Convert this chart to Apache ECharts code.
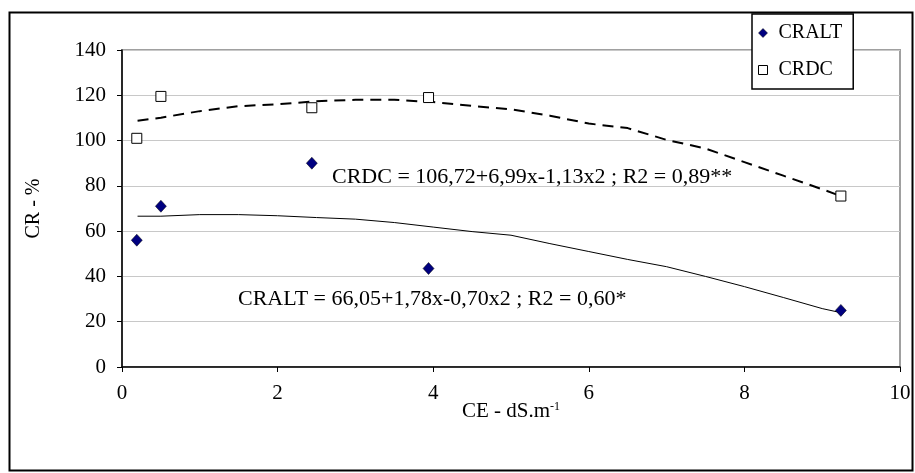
<!DOCTYPE html>
<html>
<head>
<meta charset="utf-8">
<script src="https://cdn.jsdelivr.net/npm/echarts@6/dist/echarts.min.js"></script>
<style>
html,body{margin:0;padding:0;background:#fff;}
#c{width:915px;height:473px;}
</style>
</head>
<body>
<div id="c"></div>
<script>
// Observed points
const xObs = [0.19, 0.5, 2.44, 3.94, 9.24];
const craltObs = [56, 71, 90, 43.5, 25];
const crdcObs = [101, 119.5, 114.5, 119, 75.5];
// Trendline readings
const trendX = [0.2, 0.5, 1, 1.5, 2, 2.5, 3, 3.5, 4, 4.5, 5, 5.5, 6, 6.5, 7, 7.5, 8, 8.5, 9, 9.24];
const crdcTrend = [108.8, 110.1, 113, 115.2, 116, 117.4, 118, 118, 117, 115.3, 113.8, 111, 107.5, 105.5, 100.3, 96.5, 90.5, 84.5, 78.5, 75.5];
const craltTrend = [66.6, 66.6, 67.3, 67.3, 66.8, 66, 65.3, 63.8, 61.8, 59.8, 58.2, 54.5, 51, 47.5, 44.3, 40, 35.5, 30.7, 25.8, 24];
const xTicks = [0, 2, 4, 6, 8, 10];
const yTicks = [0, 20, 40, 60, 80, 100, 120, 140];
const eqCRDC = 'CRDC = 106,72+6,99x-1,13x2 ; R2 = 0,89**';
const eqCRALT = 'CRALT = 66,05+1,78x-0,70x2 ; R2 = 0,60*';

const FONT = 'Liberation Serif';
const zip = (a, b) => a.map((v, i) => [v, b[i]]);

const chart = echarts.init(document.getElementById('c'), null, {renderer: 'canvas'});
chart.setOption({
  animation: false,
  backgroundColor: '#fff',
  textStyle: {fontFamily: FONT, color: '#000'},
  grid: {left: 122, right: 15, top: 50, bottom: 106, show: true, borderColor: '#a0a0a0', borderWidth: 2, backgroundColor: '#fff'},
  xAxis: {
    type: 'value', min: xTicks[0], max: xTicks[xTicks.length - 1], interval: 2,
    name: '{n|CE - dS.m}{s|-1}', nameLocation: 'middle', nameGap: 34, nameMoveOverlap: false,
    nameTextStyle: {rich: {n: {fontFamily: FONT, fontSize: 21, color: '#000', verticalAlign: 'bottom'}, s: {fontFamily: FONT, fontSize: 12, color: '#000', verticalAlign: 'top', padding: [0, 0, 9, 0]}}},
    axisLine: {show: true, lineStyle: {color: '#000', width: 1.5}},
    axisTick: {show: true, length: 5, lineStyle: {color: '#000'}},
    axisLabel: {fontFamily: FONT, fontSize: 21, color: '#000', margin: 16},
    splitLine: {show: false}
  },
  yAxis: {
    type: 'value', min: yTicks[0], max: yTicks[yTicks.length - 1], interval: 20,
    name: 'CR - %', nameLocation: 'middle', nameGap: 78, nameRotate: 90, nameMoveOverlap: false,
    nameTextStyle: {fontFamily: FONT, fontSize: 20, color: '#000'},
    axisLine: {show: true, lineStyle: {color: '#000', width: 1.5}},
    axisTick: {show: true, length: 5, lineStyle: {color: '#000'}},
    axisLabel: {fontFamily: FONT, fontSize: 21, color: '#000', margin: 16},
    splitLine: {show: true, lineStyle: {color: '#c8c8c8', width: 1}}
  },
  legend: {
    orient: 'vertical', left: 752, top: 14,
    data: [
      {name: 'CRALT', icon: 'diamond', itemStyle: {color: '#000080', borderColor: '#000', borderWidth: 0.5}},
      {name: 'CRDC', icon: 'rect', itemStyle: {color: '#fff', borderColor: '#000', borderWidth: 1}}
    ],
    itemWidth: 9, itemHeight: 9, itemGap: 17,
    padding: [9, 11, 9, 6],
    backgroundColor: '#fff', borderColor: '#000', borderWidth: 1.5,
    textStyle: {fontFamily: FONT, fontSize: 20, color: '#000', padding: [0, 0, 0, 6]}
  },
  series: [
    {name: 'CRDC trend', type: 'line', data: zip(trendX, crdcTrend), showSymbol: false, symbol: 'none',
     lineStyle: {color: '#000', width: 2, type: [11, 7]}, silent: true, z: 2},
    {name: 'CRALT trend', type: 'line', data: zip(trendX, craltTrend), showSymbol: false, symbol: 'none',
     lineStyle: {color: '#000', width: 1}, silent: true, z: 2},
    {name: 'CRALT', type: 'scatter', data: zip(xObs, craltObs), symbol: 'diamond', symbolSize: [11, 12],
     itemStyle: {color: '#000080', borderColor: '#000', borderWidth: 0.5, opacity: 1}, z: 3},
    {name: 'CRDC', type: 'scatter', data: zip(xObs, crdcObs), symbol: 'rect', symbolSize: 10,
     itemStyle: {color: '#fff', borderColor: '#000', borderWidth: 1, opacity: 1}, z: 3}
  ],
  graphic: [
    {type: 'rect', shape: {x: 9.5, y: 12.5, width: 903, height: 458}, style: {fill: 'none', stroke: '#000', lineWidth: 2}, z: -10, silent: true},
    {type: 'text', left: 332, top: 166, style: {text: eqCRDC, font: '22px "Liberation Serif"', fill: '#000'}, z: 10},
    {type: 'text', left: 238, top: 288, style: {text: eqCRALT, font: '22px "Liberation Serif"', fill: '#000'}, z: 10}
  ]
});
</script>
</body>
</html>
